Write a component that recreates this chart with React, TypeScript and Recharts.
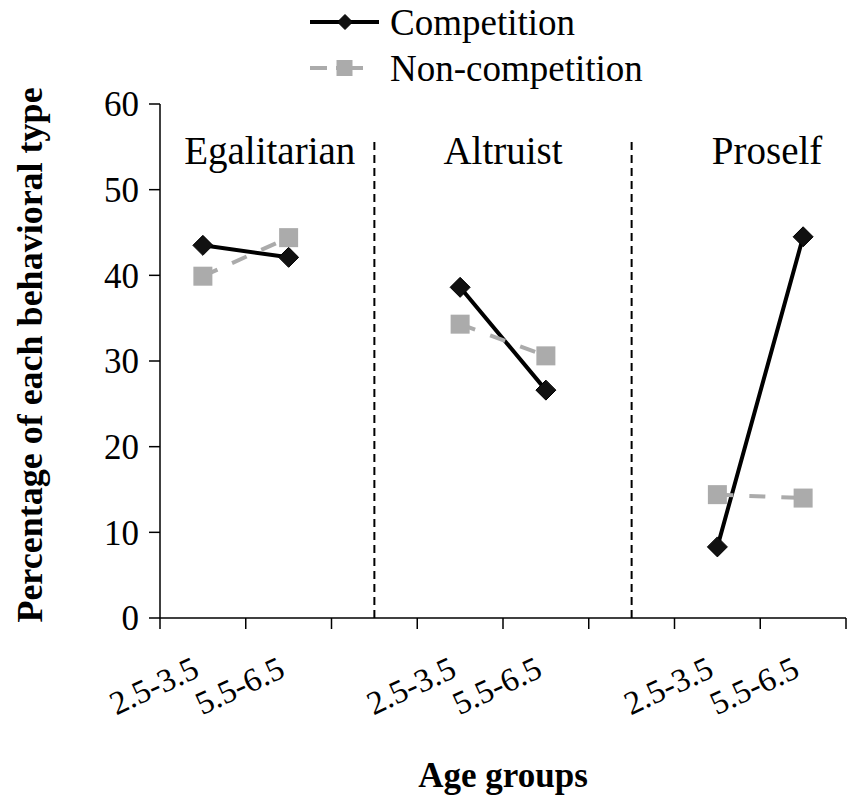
import React from "react"
import {
  Label,
  Legend,
  Line,
  LineChart,
  ReferenceDot,
  ReferenceLine,
  XAxis,
  YAxis,
} from "recharts"

// values (percent of each behavioral type)
const panels = ["Egalitarian", "Altruist", "Proself"]
const ageGroups = ["2.5-3.5", "5.5-6.5"]
const competition = [43.5, 42.1, 38.6, 26.6, 8.3, 44.5]
const nonCompetition = [39.9, 44.4, 34.3, 30.6, 14.4, 14.0]
const seriesNames = { competition: "Competition", nonCompetition: "Non-competition" }
const yTicks = [0, 10, 20, 30, 40, 50, 60]

// layout only: where the panel titles sit on the x scale, and at what height
const panelLabelX = [1.28, 4, 7.08]
const panelLabelY = 54.6
const dividerTop = 56

const FONT = '"Liberation Serif", "Times New Roman", serif'

type Row = {
  x: number
  age: string
  competition: number | null
  nonCompetition: number | null
}

// each panel gets two age slots, and an empty slot between panels
const rows: Row[] = []
panels.forEach((_, p) => {
  ageGroups.forEach((age, a) => {
    rows.push({
      x: p * 3 + a + 0.5,
      age,
      competition: competition[p * 2 + a],
      nonCompetition: nonCompetition[p * 2 + a],
    })
  })
  if (p < panels.length - 1) {
    rows.push({ x: p * 3 + 2.5, age: "", competition: null, nonCompetition: null })
  }
})

const slotCount = rows.length
const boundaries = Array.from({ length: slotCount + 1 }, (_, i) => i)
const labelTicks = rows.filter((r) => r.age).map((r) => r.x)
const dividers = rows.filter((r) => !r.age).map((r) => r.x)
const xTicks = [...boundaries, ...labelTicks].sort((a, b) => a - b)

function Diamond({ cx, cy, size = 10 }: any) {
  if (cx == null || cy == null) return null
  const s = size
  return (
    <path
      d={`M${cx},${cy - s}L${cx + s},${cy}L${cx},${cy + s}L${cx - s},${cy}Z`}
      fill="#111"
      stroke="#000"
      strokeWidth={1}
    />
  )
}

function Square({ cx, cy, size = 9.5 }: any) {
  if (cx == null || cy == null) return null
  const s = size
  return <rect x={cx - s} y={cy - s} width={s * 2} height={s * 2} fill="#ababab" />
}

function XTick({ x, y, payload }: any) {
  const row = rows.find((r) => r.age && r.x === payload.value)
  if (!row) {
    return <line x1={x} x2={x} y1={y} y2={y + 11} stroke="#000" strokeWidth={1.5} />
  }
  return (
    <text
      transform={`translate(${x - 2},${y + 58}) rotate(-25)`}
      textAnchor="end"
      fontFamily={FONT}
      fontSize={33}
      fill="#000"
    >
      {row.age}
    </text>
  )
}

function YTitle({ viewBox }: any) {
  const { x, y, height } = viewBox
  return (
    <text
      transform={`translate(${x + 30},${y + height / 2 - 6}) rotate(-90)`}
      textAnchor="middle"
      dominantBaseline="central"
      fontFamily={FONT}
      fontWeight="bold"
      fontSize={36}
      fill="#000"
    >
      Percentage of each behavioral type
    </text>
  )
}

function SeriesLegend({ payload }: any) {
  return (
    <div style={{ fontFamily: FONT, fontSize: 37, color: "#000" }}>
      {(payload || []).map((item: any) => {
        const isComp = item.dataKey === "competition"
        return (
          <div
            key={item.dataKey}
            style={{ display: "flex", alignItems: "center", height: 46, whiteSpace: "nowrap" }}
          >
            <svg width={72} height={46}>
              {isComp ? (
                <>
                  <line x1={0} x2={69} y1={23} y2={23} stroke={item.color} strokeWidth={4} />
                  <Diamond cx={35} cy={23} size={7.5} />
                </>
              ) : (
                <>
                  <line
                    x1={0}
                    x2={53}
                    y1={23}
                    y2={23}
                    stroke={item.color}
                    strokeWidth={4}
                    strokeDasharray="17 9 27"
                  />
                  <Square cx={34.5} cy={23} size={8} />
                </>
              )}
            </svg>
            <span style={{ marginLeft: 8 }}>{item.value}</span>
          </div>
        )
      })}
    </div>
  )
}

export default function App() {
  return (
    <div style={{ position: "absolute", left: 0, top: 0, width: 850, height: 805, background: "#fff" }}>
      <LineChart
        width={850}
        height={805}
        data={rows}
        margin={{ top: 104, right: 4, left: 0, bottom: 0 }}
      >
        <XAxis
          type="number"
          dataKey="x"
          domain={[0, slotCount]}
          ticks={xTicks}
          interval={0}
          tickLine={false}
          tickSize={0}
          tickMargin={0}
          axisLine={{ stroke: "#000", strokeWidth: 1.5 }}
          tick={<XTick />}
          height={187}
        >
          <Label
            value="Age groups"
            position="insideBottom"
            offset={18}
            fontFamily={FONT}
            fontWeight="bold"
            fontSize={35}
            fill="#000"
          />
        </XAxis>
        <YAxis
          type="number"
          domain={[0, 60]}
          ticks={yTicks}
          interval={0}
          width={160}
          tickSize={11}
          tickMargin={10}
          axisLine={{ stroke: "#000", strokeWidth: 1.5 }}
          tickLine={{ stroke: "#000", strokeWidth: 1.5 }}
          tick={{ fill: "#000", fontSize: 35, fontFamily: FONT }}
        >
          <Label content={<YTitle />} />
        </YAxis>
        <Legend
          layout="vertical"
          align="center"
          verticalAlign="middle"
          wrapperStyle={{ top: -1, left: 310, width: "auto" }}
          content={<SeriesLegend />}
        />
        {dividers.map((d) => (
          <ReferenceLine
            key={d}
            segment={[
              { x: d, y: 0 },
              { x: d, y: dividerTop },
            ]}
            stroke="#000"
            strokeWidth={2}
            strokeDasharray="8 5"
          />
        ))}
        {panels.map((name, i) => (
          <ReferenceDot
            key={name}
            x={panelLabelX[i]}
            y={panelLabelY}
            r={0}
            fill="none"
            stroke="none"
            ifOverflow="visible"
            label={{
              value: name,
              position: "center",
              fontFamily: FONT,
              fontSize: 39,
              fill: "#000",
            }}
          />
        ))}
        <Line
          dataKey="competition"
          name={seriesNames.competition}
          stroke="#000"
          strokeWidth={4}
          dot={<Diamond />}
          activeDot={false}
          isAnimationActive={false}
        />
        <Line
          dataKey="nonCompetition"
          name={seriesNames.nonCompetition}
          stroke="#ababab"
          strokeWidth={4}
          strokeDasharray="16 16"
          dot={<Square />}
          activeDot={false}
          isAnimationActive={false}
        />
      </LineChart>
    </div>
  )
}
